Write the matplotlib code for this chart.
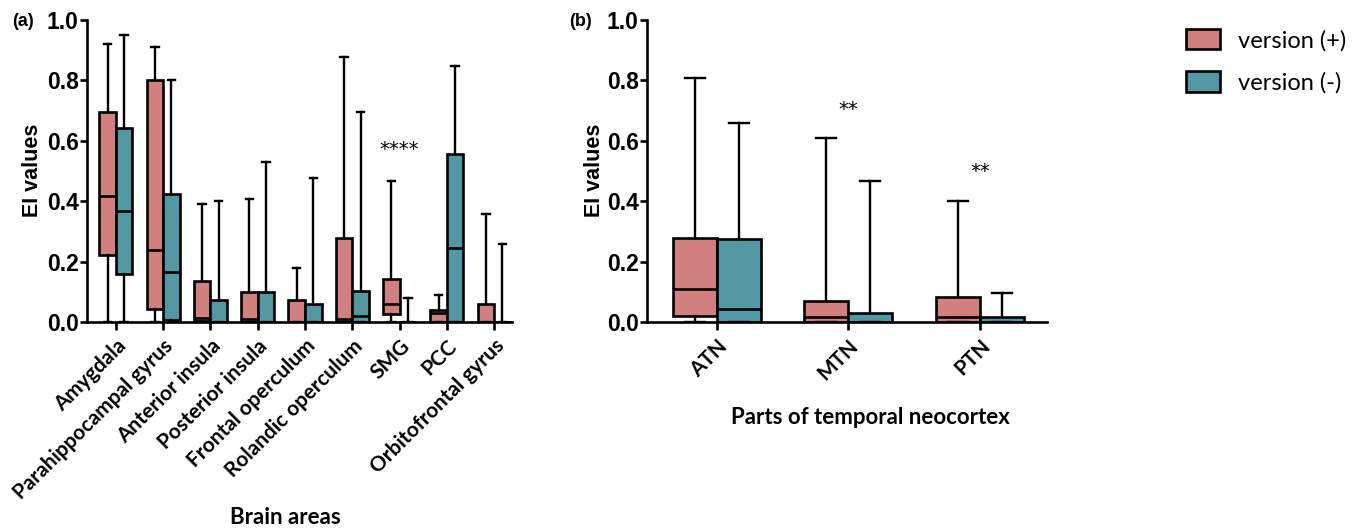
import numpy as np
import matplotlib.pyplot as plt
from matplotlib.patches import Patch

plt.switch_backend('Agg')

pink = '#d17f7f'
teal = '#5397a2'

### panel (a): brain areas
areas = ['Amygdala', 'Parahippocampal gyrus', 'Anterior insula', 'Posterior insula',
         'Frontal operculum', 'Rolandic operculum', 'SMG', 'PCC', 'Orbitofrontal gyrus']
# [min, q1, median, q3, max]
a_plus = [[0, 0.222, 0.417, 0.696, 0.92],
          [0, 0.042, 0.238, 0.80, 0.91],
          [0, 0.004, 0.012, 0.137, 0.39],
          [0, 0.0, 0.010, 0.098, 0.407],
          [0, 0.0, 0.0, 0.074, 0.18],
          [0, 0.0, 0.010, 0.279, 0.879],
          [0, 0.026, 0.060, 0.142, 0.467],
          [0, 0.0, 0.030, 0.040, 0.088],
          [0, 0.0, 0.0, 0.060, 0.357]]
a_minus = [[0, 0.158, 0.368, 0.641, 0.95],
           [0, 0.005, 0.167, 0.423, 0.80],
           [0, 0.0, 0.0, 0.073, 0.40],
           [0, 0.0, 0.0, 0.098, 0.529],
           [0, 0.0, 0.0, 0.058, 0.478],
           [0, 0.0, 0.020, 0.103, 0.696],
           [0, 0.0, 0.0, 0.0, 0.078],
           [0, 0.0, 0.244, 0.556, 0.848],
           [0, 0.0, 0.0, 0.0, 0.258]]
a_sig = {6: ('****', 0.57)}

### panel (b): temporal neocortex
parts = ['ATN', 'MTN', 'PTN']
b_plus = [[0, 0.020, 0.110, 0.279, 0.809],
          [0, 0.0, 0.018, 0.070, 0.610],
          [0, 0.0, 0.018, 0.084, 0.400]]
b_minus = [[0, 0.0, 0.042, 0.275, 0.658],
           [0, 0.0, 0.0, 0.029, 0.467],
           [0, 0.0, 0.0, 0.018, 0.097]]
b_sig = {1: ('**', 0.705), 2: ('**', 0.50)}

LW = 1.9


def stats(rows):
  out = []
  for lo, q1, med, q3, hi in rows:
    out.append(dict(whislo=lo, q1=q1, med=med, q3=q3, whishi=hi, fliers=[]))
  return out


def draw(ax, labels, plus, minus, w, sig, xlim):
  x = np.arange(len(labels))
  for rows, col, off in ((plus, pink, -w/2), (minus, teal, w/2)):
    ax.bxp(stats(rows), positions=x+off, widths=w, capwidths=w*0.45,
           patch_artist=True, showfliers=False, manage_ticks=False,
           boxprops=dict(facecolor=col, edgecolor='black', linewidth=LW),
           medianprops=dict(color='black', linewidth=LW),
           whiskerprops=dict(color='black', linewidth=LW*0.9),
           capprops=dict(color='black', linewidth=LW*0.9))
  for i, (s, y) in sig.items():
    ax.text(i, y, s, ha='center', va='center', fontsize=14, family='DejaVu Sans')
  ax.set_xlim(*xlim)
  ax.set_ylim(0, 1.0)
  ax.set_yticks(np.arange(0, 1.01, 0.2))
  ax.set_yticklabels(['%.1f' % v for v in np.arange(0, 1.01, 0.2)],
                     fontsize=16.5, fontweight='bold', family='Liberation Sans')
  ax.set_xticks(x)
  ax.set_xticklabels(labels, rotation=45, ha='right', rotation_mode='anchor',
                     fontsize=15, fontweight='bold', family='Lato')
  ax.spines['top'].set_visible(False)
  ax.spines['right'].set_visible(False)
  ax.spines['left'].set_linewidth(LW)
  ax.spines['bottom'].set_linewidth(LW)
  ax.tick_params(axis='y', length=5, width=LW, pad=1)
  ax.tick_params(axis='x', length=6, width=LW, pad=4)


fig = plt.figure(figsize=(13.6, 5.31), dpi=100)
ax1 = fig.add_axes([0.064, 0.3936, 0.3125, 0.5687])
ax2 = fig.add_axes([0.4757, 0.3936, 0.2941, 0.5687])

draw(ax1, areas, a_plus, a_minus, 0.35, a_sig, (-0.61, 8.38))
draw(ax2, parts, b_plus, b_minus, 0.335, b_sig, (-0.53, 2.51))

fig.text(33/1360, 1-170/531, 'EI values', rotation=90, ha='center', va='center',
         fontsize=15.5, fontweight='bold', family='Liberation Sans')
fig.text(594/1360, 1-170/531, 'EI values', rotation=90, ha='center', va='center',
         fontsize=15.5, fontweight='bold', family='Liberation Sans')
fig.text(23/1360, 1-22/531, '(a)', ha='center', va='center', fontsize=13,
         fontweight='bold', family='Liberation Sans')
fig.text(581/1360, 1-22/531, '(b)', ha='center', va='center', fontsize=13,
         fontweight='bold', family='Liberation Sans')
fig.text(285/1360, 1-518/531, 'Brain areas', ha='center', va='center',
         fontsize=16, fontweight='bold', family='Lato')
fig.text(870/1360, 1-417/531, 'Parts of temporal neocortex', ha='center', va='center',
         fontsize=16, fontweight='bold', family='Lato')

handles = [Patch(facecolor=pink, edgecolor='black', linewidth=LW, label='version (+)'),
           Patch(facecolor=teal, edgecolor='black', linewidth=LW, label='version (-)')]
fig.legend(handles=handles, loc='upper left', bbox_to_anchor=(1186/1360, 1-29/531),
           frameon=False, handlelength=1.45, handleheight=0.95, handletextpad=0.75,
           labelspacing=0.85, borderpad=0, borderaxespad=0,
           prop=dict(family='Lato', size=17))

plt.savefig('out.png', dpi=100)
